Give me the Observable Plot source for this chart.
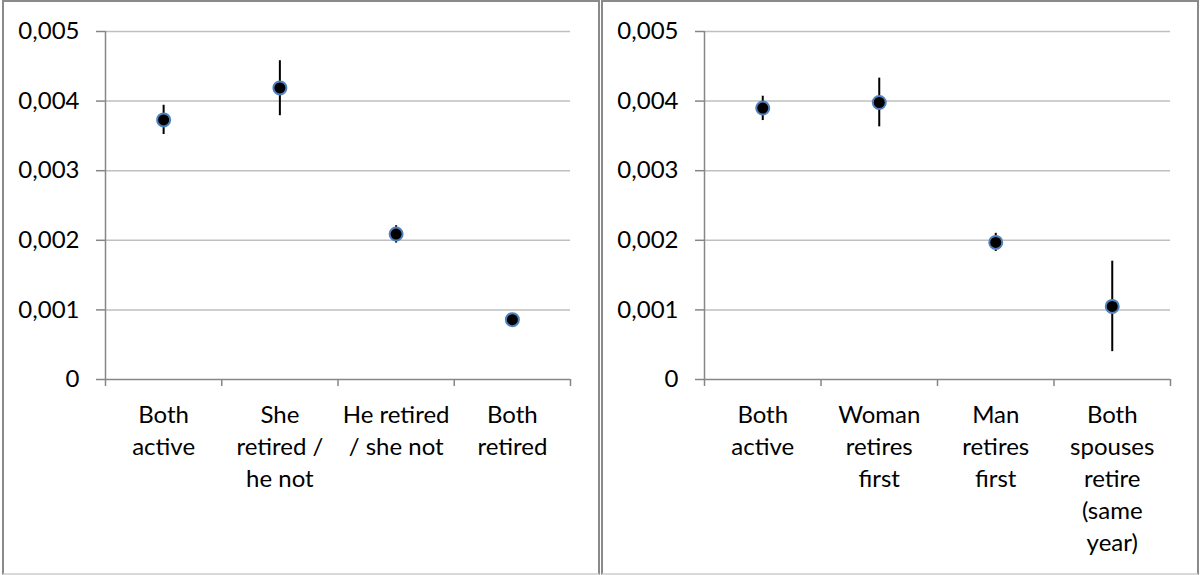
<!DOCTYPE html>
<html>
<head>
<meta charset="utf-8">
<script src="https://cdn.jsdelivr.net/npm/d3@7"></script>
<script src="https://cdn.jsdelivr.net/npm/@observablehq/plot@0.6"></script>
<style>
  html, body { margin: 0; padding: 0; background: #fff; }
  #wrap { position: relative; width: 1200px; height: 575px; overflow: hidden; }
  .chart { position: absolute; top: 0; }
  .frame { position: absolute; box-sizing: border-box; border: 2px solid #8a8a8a; border-bottom-color: #d9d9d9; pointer-events: none; }
</style>
</head>
<body>
<div id="wrap">
  <div class="chart" id="left" style="left:0px"></div>
  <div class="chart" id="right" style="left:600px"></div>
  <div class="frame" style="left:2px; top:0px; width:598px; height:575px;"></div>
  <div class="frame" style="left:601px; top:0px; width:598px; height:575px;"></div>
</div>
<script>
// Shared y ticks
const yTicks = [0, 0.001, 0.002, 0.003, 0.004, 0.005];

// Left panel
const leftCategories = ["Both\nactive", "She\nretired /\nhe not", "He retired\n/ she not", "Both\nretired"];
const leftEstimates = [0.00373, 0.00419, 0.00209, 0.00086];
const leftLower     = [0.00352, 0.00379, 0.00196, 0.00083];
const leftUpper     = [0.00394, 0.00458, 0.00221, 0.00089];

// Right panel
const rightCategories = ["Both\nactive", "Woman\nretires\nfirst", "Man\nretires\nfirst", "Both\nspouses\nretire\n(same\nyear)"];
const rightEstimates = [0.00390, 0.00398, 0.00197, 0.00105];
const rightLower     = [0.00372, 0.00363, 0.00184, 0.00040];
const rightUpper     = [0.00407, 0.00433, 0.00210, 0.00170];

const fmt = d => d === 0 ? "0" : d.toFixed(3).replace(".", ",");
const FS = 24;

function panel(cats, est, lo, hi, marginLeft) {
  const data = cats.map((c, i) => ({i: i + 0.5, cat: c, est: est[i], lo: lo[i], hi: hi[i]}));
  const n = cats.length;
  return Plot.plot({
    width: 600,
    height: 575,
    marginLeft: marginLeft,
    marginRight: 30,
    marginTop: 31,
    marginBottom: 196,
    style: {fontFamily: "Lato, 'Open Sans', sans-serif", fontSize: FS + "px", color: "black", background: "transparent", overflow: "visible"},
    x: {domain: [0, n], axis: null},
    y: {domain: [0, 0.005], axis: null},
    marks: [
      Plot.gridY({ticks: yTicks.slice(1), stroke: "#bfbfbf", strokeOpacity: 1, strokeWidth: 1.5}),
      Plot.axisY({ticks: yTicks, tickSize: 9, tickPadding: 17, tickFormat: fmt, label: null, stroke: "#868686", strokeWidth: 1.5, fill: "black", fontSize: FS}),
      Plot.axisX({ticks: d3.range(n + 1), tickSize: 7, tickFormat: () => "", label: null, stroke: "#868686", strokeWidth: 1.5}),
      Plot.ruleX([0], {stroke: "#868686", strokeWidth: 1.5}),
      Plot.ruleY([0], {stroke: "#868686", strokeWidth: 1.5}),
      Plot.text(data, {x: "i", y: () => 0, text: "cat", lineAnchor: "top", dy: 21, lineHeight: 1.33, fontSize: FS, fill: "black"}),
      Plot.ruleX(data, {x: "i", y1: "lo", y2: "hi", stroke: "black", strokeWidth: 2}),
      Plot.dot(data, {x: "i", y: "est", r: 6.5, fill: "black", stroke: "#4f81bd", strokeWidth: 2})
    ]
  });
}

document.getElementById("left").appendChild(panel(leftCategories, leftEstimates, leftLower, leftUpper, 105));
document.getElementById("right").appendChild(panel(rightCategories, rightEstimates, rightLower, rightUpper, 104));
</script>
</body>
</html>
